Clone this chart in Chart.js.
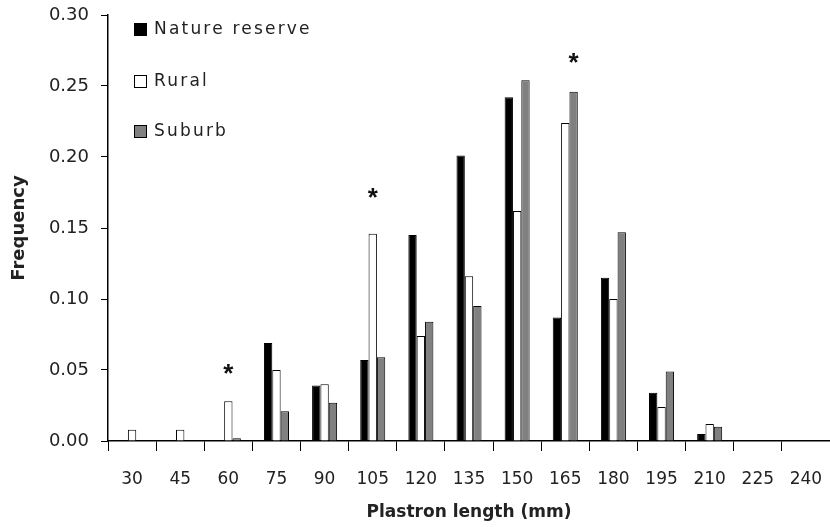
<!DOCTYPE html>
<html>
<head>
<meta charset="utf-8">
<script src="https://cdn.jsdelivr.net/npm/chart.js@4/dist/chart.umd.min.js"></script>
<style>
  html, body { margin: 0; padding: 0; background: #fff; }
  #wrap { width: 830px; height: 527px; position: relative; }
</style>
</head>
<body>
<div id="wrap"><canvas id="grafica" width="830" height="527"></canvas></div>
<script>
// ─────────────────────────────────────────
// DATOS
// ─────────────────────────────────────────

const categorias = ["30", "45", "60", "75", "90", "105", "120", "135", "150", "165", "180", "195", "210", "225", "240"];

const natureReserve = [0, 0, 0, 0.069, 0.039, 0.057, 0.145, 0.201, 0.242, 0.087, 0.115, 0.034, 0.005, 0, 0];
const rural         = [0.008, 0.008, 0.028, 0.050, 0.040, 0.146, 0.074, 0.116, 0.162, 0.224, 0.100, 0.024, 0.012, 0, 0];
const suburb        = [0, 0, 0.002, 0.021, 0.027, 0.059, 0.084, 0.095, 0.254, 0.246, 0.147, 0.049, 0.010, 0, 0];

const yTicks = [0, 0.05, 0.10, 0.15, 0.20, 0.25, 0.30];

// asteriscos (diferencia significativa): categoría y altura en unidades de frecuencia
const asteriscoCat = ["60", "105", "165"];
const asteriscoVal = [0.050, 0.174, 0.269];

const FUENTE = "'DejaVu Sans', 'Liberation Sans', sans-serif";

// ─────────────────────────────────────────
// PLUGINS
// ─────────────────────────────────────────

const leyendaPlugin = {
  id: "leyenda",
  afterDraw(chart) {
    const ctx = chart.ctx;
    const items = [
      { txt: "Nature reserve", fill: "#000000", y: 30 },
      { txt: "Rural",          fill: "#ffffff", y: 82 },
      { txt: "Suburb",         fill: "#808080", y: 132 }
    ];
    ctx.save();
    ctx.font = "17px " + FUENTE;
    ctx.letterSpacing = "2.2px";
    ctx.textBaseline = "middle";
    items.forEach(it => {
      ctx.fillStyle = it.fill;
      ctx.fillRect(134.5, it.y - 6.5, 12, 12);
      ctx.strokeStyle = "#000";
      ctx.lineWidth = 1;
      ctx.strokeRect(134.5, it.y - 6.5, 12, 12);
      ctx.fillStyle = "#222";
      ctx.fillText(it.txt, 154, it.y);
    });
    ctx.restore();
  }
};

const asteriscoPlugin = {
  id: "asterisco",
  afterDatasetsDraw(chart) {
    const ctx = chart.ctx;
    const yScale = chart.scales.y;
    ctx.save();
    ctx.font = "bold 26px 'Liberation Sans', sans-serif";
    ctx.textAlign = "center";
    ctx.textBaseline = "middle";
    ctx.fillStyle = "#111";
    asteriscoCat.forEach((cat, k) => {
      const i = categorias.indexOf(cat);
      let top = null;
      chart.data.datasets.forEach((ds, d) => {
        const el = chart.getDatasetMeta(d).data[i];
        if (top === null || el.y < top.y) top = el;
      });
      ctx.fillText("*", top.x, yScale.getPixelForValue(asteriscoVal[k]) + 5);
    });
    ctx.restore();
  }
};

// ─────────────────────────────────────────
// GRÁFICA
// ─────────────────────────────────────────

new Chart(document.getElementById("grafica"), {
  type: "bar",
  data: {
    labels: categorias,
    datasets: [
      { label: "Nature reserve", data: natureReserve, backgroundColor: "#000000", borderColor: "#000000", borderWidth: 1 },
      { label: "Rural",          data: rural,         backgroundColor: "#ffffff", borderColor: "#000000", borderWidth: 1 },
      { label: "Suburb",         data: suburb,        backgroundColor: "#808080", borderColor: "#000000", borderWidth: 1 }
    ]
  },
  options: {
    responsive: false,
    animation: false,
    devicePixelRatio: 1,
    layout: { padding: { top: 15, right: 0, left: 0, bottom: 0 } },
    datasets: { bar: { categoryPercentage: 0.52, barPercentage: 1.0 } },
    plugins: {
      legend: { display: false },
      tooltip: { enabled: false }
    },
    scales: {
      x: {
        afterFit: s => { s.height = 86; s.paddingLeft = 0; s.paddingRight = 0; },
        grid: { display: true, drawOnChartArea: false, drawTicks: true, tickLength: 10, color: "#000", offset: true },
        border: { display: true, color: "#000", width: 1.5 },
        ticks: { color: "#222", font: { size: 17, family: FUENTE }, padding: 18, maxRotation: 0, autoSkip: false },
        title: { display: true, text: "Plastron length (mm)", color: "#222", font: { size: 17, weight: "bold", family: FUENTE }, padding: { top: 8 } }
      },
      y: {
        min: 0,
        max: 0.30,
        afterFit: s => { s.width = 108; s.paddingTop = 0; s.paddingBottom = 0; },
        afterBuildTicks: s => { s.ticks = yTicks.map(v => ({ value: v })); },
        grid: { display: true, drawOnChartArea: false, drawTicks: true, tickLength: 7, color: "#000" },
        border: { display: true, color: "#000", width: 1.5 },
        ticks: { color: "#222", font: { size: 18, family: FUENTE }, padding: 12, callback: v => v.toFixed(2) },
        title: { display: true, text: "Frequency", color: "#222", font: { size: 18, weight: "bold", family: FUENTE }, padding: { top: 9, bottom: 0 } }
      }
    }
  },
  plugins: [leyendaPlugin, asteriscoPlugin]
});
</script>
</body>
</html>
